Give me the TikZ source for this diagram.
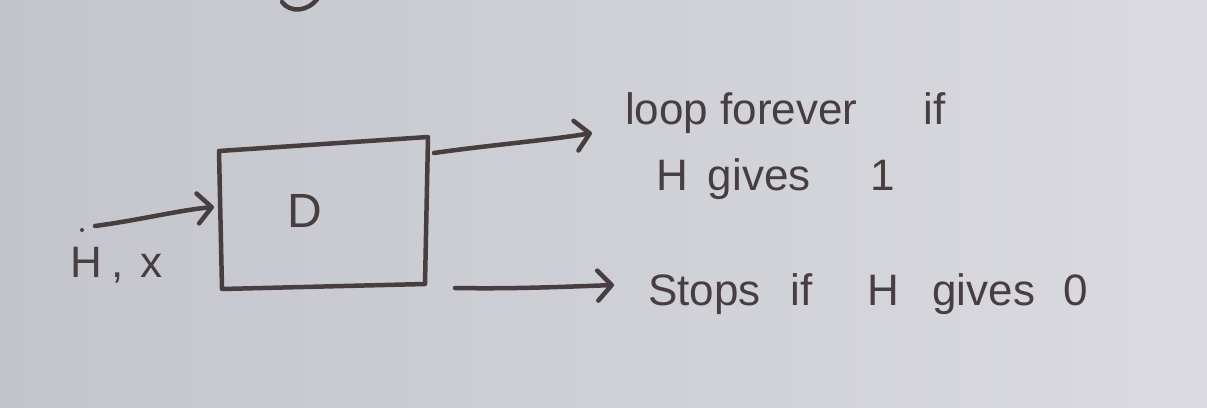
\documentclass[tikz,border=0pt]{standalone}
\usepackage{fontspec}
\setmainfont{Liberation Sans}
\usetikzlibrary{arrows.meta}
\definecolor{paperL}{RGB}{196,196,205}
\definecolor{paperR}{RGB}{218,218,224}
\definecolor{ink}{RGB}{72,62,64}
\tikzset{
  pen/.style={draw=ink, line width=4.5pt, line cap=round, line join=round},
  chev/.style={-{Straight Barb[length=14pt,width=30pt,round]}},
  hand/.style={text=ink, inner sep=0pt, font=\fontsize{44}{50}\selectfont},
}
\begin{document}
\begin{tikzpicture}[x=1pt,y=-1pt]
\shade[left color=paperL, right color=paperR] (0,0) rectangle (1207,407);
\path[use as bounding box] (0,0) rectangle (1207,407);
% partial stroke at top edge
\draw[pen] (282,2) .. controls (290,13) and (308,12) .. (318,-2);
% box
\coordinate (tl) at (219,151);
\coordinate (tr) at (428,137);
\coordinate (br) at (425,284);
\coordinate (bl) at (222,289);
\draw[pen] (tl) -- (tr) -- (br) -- (bl) -- cycle;
\node[hand, anchor=base, font=\fontsize{48}{54}\selectfont] (D) at (305,227) {D};
% input
\coordinate (inS) at (95,226);
\coordinate (inE) at (214,207);
\draw[pen, chev] (inS) .. controls (140,220) and (180,210) .. (inE);
\fill[ink] (82,230) circle (2pt);
\node[hand, anchor=base west] (Hx) at (70,277) {H\hspace{10pt},\hspace{16pt}x};
% top output
\coordinate (o1S) at (434,153);
\coordinate (o1E) at (592,133);
\draw[pen, chev] (o1S) .. controls (490,145) and (550,140) .. (o1E);
\node[hand, anchor=base west] (t1) at (625,124) {loop\hspace{12pt}forever\hspace{66pt}if};
\node[hand, anchor=base west] (t2) at (656,190) {H\hspace{20pt}gives\hspace{60pt}1};
% bottom output
\coordinate (o2S) at (455,288);
\coordinate (o2E) at (614,285);
\draw[pen, chev] (o2S) .. controls (510,289) and (560,287) .. (o2E);
\node[hand, anchor=base west] (t3) at (648,305) {Stops\hspace{30pt}if\hspace{55pt}H\hspace{33pt}gives\hspace{28pt}0};
\end{tikzpicture}
\end{document}
